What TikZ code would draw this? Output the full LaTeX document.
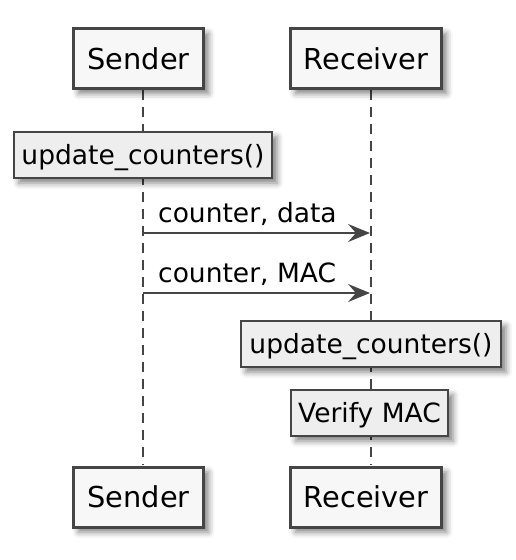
\documentclass[tikz,border=0pt]{standalone}
\usepackage{fontspec}
\setmainfont{DejaVu Sans}
\usetikzlibrary{arrows.meta,shadows.blur}
\definecolor{bordc}{HTML}{454545}
\definecolor{partfill}{HTML}{F7F7F7}
\definecolor{notefill}{HTML}{EEEEEE}
\definecolor{linec}{HTML}{454545}
\tikzset{
  shad/.style={blur shadow={shadow xshift=5pt,shadow yshift=-5pt,shadow blur radius=6pt,shadow opacity=50}},
  partbox/.style={draw=bordc,line width=3pt,fill=partfill,shad,inner sep=0pt,
    minimum height=60pt,font=\fontsize{28.8}{32}\selectfont,text height=21pt,text depth=0pt},
  notebox/.style={draw=bordc,line width=2pt,fill=notefill,shad,inner sep=0pt,
    minimum height=46pt,font=\fontsize{26.5}{30}\selectfont,text height=19.3pt,text depth=0pt},
  lifeline/.style={draw=linec,line width=2pt,dash pattern=on 10pt off 7pt},
  msg/.style={draw=linec,line width=2pt,-{Stealth[length=22pt,width=18pt,inset=8pt]}},
  msglabel/.style={anchor=base west,inner sep=0pt,font=\fontsize{26.5}{30}\selectfont},
}
\begin{document}
\begin{tikzpicture}[x=1pt,y=-1pt]
\useasboundingbox (0,0) rectangle (515,560);
% lifeline anchors
\coordinate (stop) at (143,90);
\coordinate (sbot) at (143,465);
\coordinate (rtop) at (371,90);
\coordinate (rbot) at (371,465);
\draw[lifeline] (stop) -- (sbot);
\draw[lifeline] (rtop) -- (rbot);
% participants
\node[partbox,minimum width=130pt] (S1) at (138.5,58.5) {Sender};
\node[partbox,minimum width=151pt] (R1) at (366,58.5) {Receiver};
\node[partbox,minimum width=130pt] (S2) at (138.5,497) {Sender};
\node[partbox,minimum width=151pt] (R2) at (366,497) {Receiver};
% notes
\node[notebox,minimum width=258pt] (n1) at (143,155) {update\_counters()};
\node[notebox,minimum width=260pt] (n2) at (371,344) {update\_counters()};
\node[notebox,minimum width=157pt] (n3) at (369.5,413) {Verify MAC};
% messages
\coordinate (a1) at (143,233);
\coordinate (b1) at (370,233);
\coordinate (a2) at (143,293);
\coordinate (b2) at (370,293);
\draw[msg] (a1) -- (b1);
\draw[msg] (a2) -- (b2);
\node[msglabel] (l1) at (158,222) {counter, data};
\node[msglabel] (l2) at (158,282) {counter, MAC};
\end{tikzpicture}
\end{document}
